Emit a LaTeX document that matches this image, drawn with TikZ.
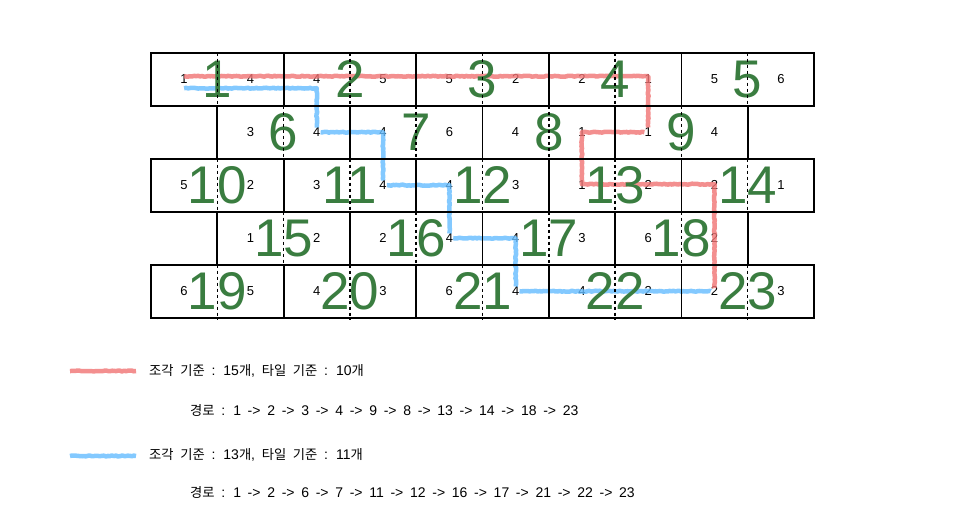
\documentclass[tikz,border=0pt]{standalone}
\usepackage{fontspec}
\setmainfont{Liberation Sans}
\newfontfamily\kr[Scale=0.95]{Noto Sans CJK KR}
\usetikzlibrary{calc,decorations.pathmorphing}
\definecolor{tilegreen}{RGB}{58,125,64}
\definecolor{pathred}{RGB}{241,115,115}
\definecolor{pathblue}{RGB}{100,188,255}
\newcommand{\widespace}{\spaceskip=6.7pt\relax}
\begin{document}
\begin{tikzpicture}[x=1pt,y=-1pt,
  bignum/.style={text=tilegreen, font=\fontsize{53}{53}\selectfont, inner sep=0pt},
  smallnum/.style={font=\fontsize{13}{13}\selectfont, inner sep=0pt},
  solidline/.style={line width=1.8pt, draw=black},
  dashline/.style={line width=1.5pt, draw=black, dash pattern=on 3pt off 3pt},
  sketch/.style={line width=4.5pt, opacity=0.8, line join=round, decorate,
    decoration={random steps, segment length=2pt, amplitude=0.5pt}},
  redpath/.style={sketch, draw=pathred},
  bluepath/.style={sketch, draw=pathblue},
  legendtext/.style={anchor=west, inner sep=0pt, font=\fontsize{14}{14}\selectfont}
]
\fill[white] (0,0) rectangle (965,523);
\useasboundingbox (0,0) rectangle (965,523);

% tile numbers: name / centre x / centre y / left / right
\foreach \n/\cx/\cy/\a/\b in {
  1/217.3/79.2/1/4, 2/349.9/79.2/4/5, 3/482.5/79.2/5/2, 4/615.1/79.2/2/1, 5/747.7/79.2/5/6,
  6/283.6/132.2/3/4, 7/416.2/132.2/4/6, 8/548.8/132.2/4/1, 9/681.4/132.2/1/4,
  10/217.3/185.2/5/2, 11/349.9/185.2/3/4, 12/482.5/185.2/4/3, 13/615.1/185.2/1/2, 14/747.7/185.2/2/1,
  15/283.6/238.2/1/2, 16/416.2/238.2/2/4, 17/548.8/238.2/4/3, 18/681.4/238.2/6/2,
  19/217.3/291.2/6/5, 20/349.9/291.2/4/3, 21/482.5/291.2/6/4, 22/615.1/291.2/4/2, 23/747.7/291.2/2/3}
{
  \node[smallnum] (l\n) at (\cx-33.2,\cy) {\a};
  \node[smallnum] (r\n) at (\cx+33.2,\cy) {\b};
  \coordinate (c\n) at (\cx,\cy);
}

% paths
\draw[redpath] ($(l1)+(0,-3)$) -| (l9) -| ($(l13)+(0,-1)$) -| ($(l23)+(0,-3)$);
\draw[bluepath] ($(l1)+(0,9)$) -| (r6) -| (r11) -| (r16) -| (r21) -- (l23);

% big numbers
\foreach \n in {1,...,23} { \node[bignum] (t\n) at (c\n) {\n}; }

% grid
\foreach \top in {52.7,158.7,264.7} {
  \draw[solidline] (151,\top) rectangle (814,\top+53);
  \foreach \k in {1,...,4} { \draw[solidline] (151+132.6*\k,\top) -- (151+132.6*\k,\top+53); }
  \foreach \k in {0,...,4} { \draw[dashline] (217.3+132.6*\k,\top) -- (217.3+132.6*\k,\top+55); }
}
\foreach \top in {105.7,211.7} {
  \foreach \k in {0,...,4} { \draw[solidline] (217.3+132.6*\k,\top) -- (217.3+132.6*\k,\top+53); }
  \foreach \k in {0,...,3} { \draw[dashline] (283.6+132.6*\k,\top) -- (283.6+132.6*\k,\top+55); }
}

% legend
\coordinate (redA) at (70,371);
\coordinate (redB) at (136,371);
\draw[redpath] (redA) -- (redB);
\node[legendtext] (redinfo) at (149,371) {\widespace{\kr 조각 기준} : 15{\kr 개}, {\kr 타일 기준} : 10{\kr 개}};
\node[legendtext] (redroute) at (190,410) {\widespace{\kr 경로} : 1 -> 2 -> 3 -> 4 -> 9 -> 8 -> 13 -> 14 -> 18 -> 23};
\coordinate (blueA) at (70,456);
\coordinate (blueB) at (136,456);
\draw[bluepath] (blueA) -- (blueB);
\node[legendtext] (blueinfo) at (149,455) {\widespace{\kr 조각 기준} : 13{\kr 개}, {\kr 타일 기준} : 11{\kr 개}};
\node[legendtext] (blueroute) at (190,492) {\widespace{\kr 경로} : 1 -> 2 -> 6 -> 7 -> 11 -> 12 -> 16 -> 17 -> 21 -> 22 -> 23};
\end{tikzpicture}
\end{document}
